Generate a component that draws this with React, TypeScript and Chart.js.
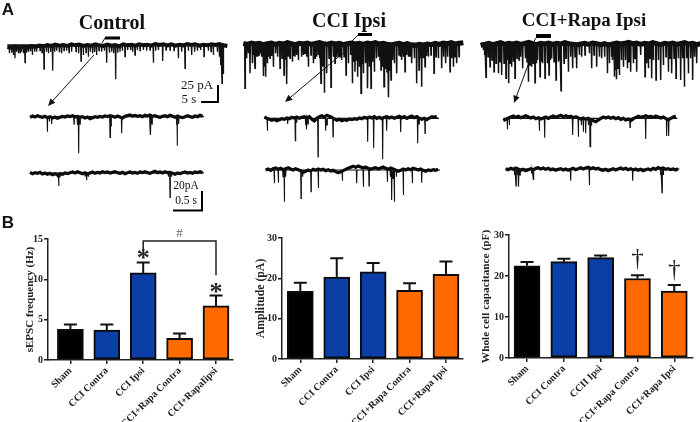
import React, { useEffect, useRef } from "react";
import { Chart, registerables } from "chart.js";
Chart.register(...registerables);

const SERIF = "'Liberation Serif', serif";

// ---- Panel B values ----
const freqLabels = ["Sham", "CCI Contra", "CCI Ipsi", "CCI+Rapa Contra", "CCI+RapaIipsi"];
const ampLabels = ["Sham", "CCI Contra", "CCI Ipsi", "CCI+Rapa Contra", "CCI+Rapa Ipsi"];
const capLabels = ["Sham", "CCI Contra", "CCII Ipsi", "CCI+Rapa Contra", "CCI+Rapa Ipsi"];
const freqValues = [3.8, 3.7, 10.8, 2.7, 6.7];
const freqUpper = [4.4, 4.4, 12.1, 3.3, 8.0];
const ampValues = [16.8, 20.3, 21.6, 17.0, 21.0];
const ampUpper = [18.9, 25.0, 23.8, 18.8, 24.2];
const capValues = [22.5, 23.5, 24.5, 19.4, 16.3];
const capUpper = [23.4, 24.2, 25.0, 20.2, 17.8];
const barColors = ["#000000", "#0b3fa6", "#0b3fa6", "#ff6a00", "#ff6a00"];

// ---- Panel A traces: [time, peak] readings in record units; levels are the noisy baseline read every "step" units ----
const controlTopRest = 135;
const controlTopStart = 22;
const controlTopEnd = 675;
const controlTopSpikes = [[28,160],[35,158],[40,165],[45,175],[50,155],[55,160],[60,158],[64,155],[70,160],[75,188],[80,158],[85,155],[91,152],[97,165],[104,155],[110,155],[120,152],[126,158],[132,207],[139,155],[145,160],[152,156],[158,212],[164,155],[170,152],[178,155],[185,160],[192,152],[200,152],[207,158],[215,155],[228,155],[236,160],[243,183],[250,165],[258,158],[265,170],[271,155],[278,160],[284,156],[290,165],[297,152],[305,155],[313,152],[320,188],[328,158],[335,155],[341,160],[347,238],[353,158],[360,155],[367,152],[375,170],[383,150],[392,150],[398,155],[405,165],[412,150],[420,152],[430,150],[440,152],[450,150],[460,188],[467,152],[475,150],[488,183],[498,150],[510,150],[522,152],[535,175],[545,155],[555,205],[565,152],[575,165],[584,155],[592,152],[602,150],[612,170],[625,152],[633,155],[640,165],[652,155],[658,170],[662,195],[666,250],[670,222]];
const controlTopLevels = [141,143,139,142,140,143,138,141,137,139,135,138,134,137,135,138,133,136,134,138,135,137,133,136,138,134,137,135,139,133,136,134,137,133,136,134,137,132,135,133,136,133,137,134,136,132,135,133,137,134,136,133,135,132,136,138];
const controlTopStep = 12;

const controlMidRest = 350;
const controlMidStart = 90;
const controlMidEnd = 612;
const controlMidSpikes = [[142,395],[148,365],[155,372],[222,372],[232,375],[236,460],[240,372],[330,412],[333,378],[365,400],[450,385],[452,405],[456,372],[530,375],[532,437],[536,372]];
const controlMidLevels = [352,348,351,347,350,352,349,353,350,354,351,355,352,349,351,348,350,347,351,349,352,350,354,351,356,353,350,352,349,351,348,350,347,349,352,348,351,354,349,347,345,348,346,349,347,350,346,348,345,349,347,350,352,349,347,350,346,349,352,348,351,353,350,347,350,352,348,350,346,349];
const controlMidStep = 7.5;

const controlLowRest = 519;
const controlLowStart = 90;
const controlLowEnd = 612;
const controlLowSpikes = [[172,532],[176,558],[180,532],[255,528],[260,541],[265,530],[505,530],[510,592],[514,530]];
const controlLowLevels = [517,521,518,520,517,522,519,523,520,524,521,525,521,523,519,521,518,516,519,515,518,521,518,522,519,516,520,517,519,515,518,516,519,517,515,518,520,517,521,518,516,519,517,520,516,518,515,518,520,517,514,518,516,519,515,518,517,520,523,519,521,518,516,519,517,520,516,518,515,518];
const controlLowStep = 7.5;

const ipsiTopRest = 130;
const ipsiTopStart = 25;
const ipsiTopEnd = 677;
const ipsiTopSpikes = [[30,265],[35,175],[40,160],[45,220],[52,190],[56,165],[60,205],[64,170],[68,170],[72,165],[76,160],[80,170],[85,228],[88,200],[92,230],[97,190],[101,170],[105,175],[110,168],[115,200],[122,160],[128,170],[135,205],[141,175],[147,225],[151,180],[155,252],[160,170],[165,175],[172,185],[176,168],[180,170],[185,165],[190,180],[200,170],[205,165],[210,160],[215,170],[220,200],[228,165],[235,190],[240,175],[245,170],[250,165],[254,175],[258,250],[263,200],[268,278],[275,220],[282,175],[288,262],[295,170],[300,190],[305,172],[310,170],[315,170],[320,180],[327,170],[333,225],[340,190],[347,165],[352,250],[356,185],[360,215],[364,180],[368,230],[373,200],[378,280],[381,190],[385,220],[391,190],[395,185],[398,265],[403,200],[408,265],[413,185],[418,215],[424,175],[430,170],[435,180],[438,210],[442,200],[447,260],[450,205],[452,200],[456,215],[459,190],[461,292],[465,210],[468,240],[473,180],[478,190],[485,220],[492,165],[496,170],[500,180],[505,170],[510,215],[515,165],[520,170],[525,168],[530,190],[538,175],[545,250],[552,210],[556,175],[560,260],[565,175],[570,200],[575,168],[580,170],[588,165],[597,220],[603,170],[610,175],[620,205],[626,170],[632,190],[638,170],[645,215],[650,175],[655,200],[660,170],[665,190],[672,170]];
const ipsiTopLevels = [130,133,129,132,130,134,131,129,133,130,132,128,131,134,130,132,129,133,130,128,131,133,129,132,130,134,131,129,132,130,133,129,131,128,132,130,133,135,132,130,134,131,135,137,133,136,132,134,130,133,129,131,128,132,130,128];
const ipsiTopStep = 12;

const ipsiMidRest = 355;
const ipsiMidStart = 88;
const ipsiMidEnd = 612;
const ipsiMidSpikes = [[97,392],[158,372],[181,422],[185,368],[212,375],[215,388],[219,372],[249,470],[272,392],[276,375],[294,410],[398,425],[416,445],[443,478],[455,392],[497,397],[548,430],[552,372],[570,400]];
const ipsiMidLevels = [351,355,358,361,358,362,359,356,358,354,356,352,354,351,355,352,350,353,350,358,363,355,350,347,351,346,349,352,357,361,358,362,359,361,357,359,356,358,354,356,352,355,351,354,350,355,352,356,352,350,354,351,355,352,349,353,350,355,351,348,353,350,355,358,355,359,354,350,352,349];
const ipsiMidStep = 7.5;

const ipsiLowRest = 510;
const ipsiLowStart = 92;
const ipsiLowEnd = 615;
const ipsiLowSpikes = [[118,550],[130,548],[144,530],[148,605],[152,530],[198,595],[203,530],[228,575],[250,565],[322,542],[365,550],[385,560],[402,558],[457,545],[466,530],[470,600],[474,535],[478,605],[484,530],[505,585],[532,550],[560,548]];
const ipsiLowLevels = [510,507,511,506,504,508,505,509,506,503,507,510,506,509,512,517,514,510,513,508,511,507,510,508,512,509,513,511,515,518,515,512,508,505,502,499,502,498,501,504,501,505,508,505,503,507,504,501,505,508,504,507,510,514,511,507,510,506,509,505,507,510,507,511,514,510,512,509,511,508];
const ipsiLowStep = 7.5;

const rapaTopRest = 130;
const rapaTopStart = 32;
const rapaTopEnd = 685;
const rapaTopSpikes = [[40,150],[44,165],[48,232],[54,170],[60,200],[66,180],[72,215],[78,190],[85,220],[90,185],[95,225],[102,190],[108,235],[112,180],[116,250],[120,190],[125,200],[130,185],[135,235],[141,175],[147,180],[152,170],[158,205],[166,175],[171,185],[175,245],[180,195],[185,200],[190,190],[195,248],[199,190],[203,180],[210,230],[214,185],[218,190],[225,235],[232,190],[237,225],[241,180],[245,175],[252,185],[258,240],[265,185],[269,180],[273,272],[282,190],[288,175],[295,215],[302,170],[308,205],[315,170],[320,205],[328,165],[335,170],[345,165],[358,160],[365,205],[372,165],[380,200],[388,170],[395,175],[404,170],[412,220],[418,190],[425,170],[428,180],[433,230],[437,210],[440,238],[444,205],[448,225],[454,180],[460,200],[466,180],[472,205],[477,185],[482,215],[490,190],[495,175],[500,215],[512,165],[525,230],[530,190],[535,205],[540,175],[545,235],[550,180],[558,240],[565,180],[572,240],[580,195],[588,170],[595,215],[600,175],[605,220],[612,175],[618,235],[625,175],[632,240],[638,175],[643,260],[650,175],[655,220],[662,175],[668,240],[674,170],[680,190]];
const rapaTopLevels = [136,133,130,134,131,128,133,130,132,129,133,130,127,131,134,130,132,129,133,130,132,128,131,133,135,132,130,133,129,131,134,131,135,132,129,132,130,127,131,129,133,130,132,128,131,134,130,132,129,133,130,128,132,130,134,131];
const rapaTopStep = 12;

const rapaMidRest = 355;
const rapaMidStart = 100;
const rapaMidEnd = 622;
const rapaMidSpikes = [[112,388],[118,375],[208,392],[224,413],[308,405],[325,410],[334,375],[340,395],[347,400],[355,375],[360,440],[364,375],[480,382],[527,417],[590,408],[596,408]];
const rapaMidLevels = [362,358,354,351,348,352,349,353,350,347,351,354,351,356,353,357,354,351,355,351,348,352,349,346,350,347,351,349,353,350,354,357,354,358,355,359,362,365,360,355,351,354,351,355,352,356,353,358,355,360,357,362,356,352,349,352,350,347,351,349,352,348,351,354,351,356,359,355,351,348];
const rapaMidStep = 7.5;

const rapaLowRest = 507;
const rapaLowStart = 107;
const rapaLowEnd = 628;
const rapaLowSpikes = [[134,525],[138,558],[143,525],[146,560],[150,525],[185,520],[190,538],[302,542],[358,555],[488,542],[572,525],[576,578],[580,525]];
const rapaLowLevels = [506,509,505,508,504,507,511,508,512,509,506,510,505,503,507,504,508,505,509,507,511,508,506,510,507,511,508,505,509,506,503,507,504,502,506,503,507,505,509,511,508,512,509,506,510,507,504,508,505,509,506,510,507,511,508,512,509,507,510,505,508,503,506,504,508,506,509,507,510,506];
const rapaLowStep = 7.5;

type Trace = { rest: number; start: number; end: number; spikes: number[][]; levels: number[]; step: number; thick: number; thin: number };

function spikePath(t: Trace) {
  const pts: { x: number; y: number }[] = [{ x: t.start, y: t.rest }];
  for (const [x, y] of t.spikes) {
    pts.push({ x: x - 1, y: t.rest }, { x, y }, { x: x + 1, y: t.rest });
  }
  pts.push({ x: t.end, y: t.rest });
  return pts;
}

function TraceColumn({ left, width, traces }: { left: number; width: number; traces: Trace[] }) {
  const ref = useRef<HTMLCanvasElement>(null);
  useEffect(() => {
    const datasets: any[] = [];
    for (const t of traces) {
      datasets.push({ data: spikePath(t), borderColor: "#111", borderWidth: t.thin, pointRadius: 0, tension: 0 });
      datasets.push({ data: t.levels.map((y, i) => ({ x: t.start + i * t.step, y })), borderColor: "#0a0a0a", borderWidth: t.thick, pointRadius: 0, tension: 0 });
    }
    const chart = new Chart(ref.current!, {
      type: "line",
      data: { datasets },
      options: {
        animation: false,
        responsive: false,
        layout: { padding: 0 },
        plugins: { legend: { display: false }, tooltip: { enabled: false } },
        scales: {
          x: { type: "linear", display: false, min: 0, max: width * 3 },
          y: { type: "linear", display: false, min: 0, max: 645, reverse: true },
        },
      },
    });
    return () => chart.destroy();
  }, []);
  return <canvas ref={ref} width={width} height={215} style={{ position: "absolute", left, top: 0 }} />;
}

type Mark = { x: number; y: number; text: string; size: number; bold?: boolean; color?: string };
type BarProps = {
  left: number; top: number; width: number; height: number;
  axisLeft: number; axisTop: number; axisBottom: number; axisRight: number;
  gapL: number; gapR: number; spacing: number;
  labels: string[]; values: number[]; upper: number[]; max: number; step: number; title: string; titleSize: number;
  marks?: Mark[]; bracket?: { x1: number; x2: number; y: number; y1: number; y2: number };
};

function BarPanel(p: BarProps) {
  const ref = useRef<HTMLCanvasElement>(null);
  useEffect(() => {
    const overlay = {
      id: "overlay",
      afterDatasetsDraw(chart: any) {
        const { ctx, scales } = chart;
        const xs = scales.x, ys = scales.y;
        ctx.save();
        ctx.strokeStyle = "#111";
        ctx.lineWidth = 2;
        p.values.forEach((v, i) => {
          const x = xs.getPixelForValue(i + 1);
          const y0 = ys.getPixelForValue(v);
          const y1 = ys.getPixelForValue(p.upper[i]);
          ctx.beginPath();
          ctx.moveTo(x, y0); ctx.lineTo(x, y1);
          ctx.moveTo(x - 6.5, y1); ctx.lineTo(x + 6.5, y1);
          ctx.stroke();
        });
        if (p.bracket) {
          const b = p.bracket;
          ctx.lineWidth = 1.5;
          ctx.strokeStyle = "#222";
          ctx.beginPath();
          ctx.moveTo(xs.getPixelForValue(b.x1), ys.getPixelForValue(b.y1));
          ctx.lineTo(xs.getPixelForValue(b.x1), ys.getPixelForValue(b.y));
          ctx.lineTo(xs.getPixelForValue(b.x2), ys.getPixelForValue(b.y));
          ctx.lineTo(xs.getPixelForValue(b.x2), ys.getPixelForValue(b.y2));
          ctx.stroke();
        }
        ctx.textAlign = "center";
        ctx.textBaseline = "middle";
        for (const m of p.marks || []) {
          ctx.fillStyle = m.color || "#222";
          ctx.font = `${m.bold ? "bold " : ""}${m.size}px ${SERIF}`;
          ctx.fillText(m.text, xs.getPixelForValue(m.x), ys.getPixelForValue(m.y));
        }
        ctx.restore();
      },
    };
    const chart = new Chart(ref.current!, {
      type: "bar",
      data: {
        datasets: [{
          data: p.values.map((v, i) => ({ x: i + 1, y: v })),
          backgroundColor: barColors,
          borderColor: "#0a0a0a",
          borderWidth: 2,
          barThickness: 26,
          borderSkipped: false,
        }],
      },
      plugins: [overlay],
      options: {
        animation: false,
        responsive: false,
        layout: { padding: { top: p.axisTop - p.top, right: p.left + p.width - p.axisRight, left: 0, bottom: 0 } },
        plugins: { legend: { display: false }, tooltip: { enabled: false } },
        scales: {
          x: {
            type: "linear",
            offset: false,
            min: 1 - p.gapL / p.spacing,
            max: 5 + p.gapR / p.spacing,
            afterBuildTicks: (s: any) => { s.ticks = [1, 2, 3, 4, 5].map((value) => ({ value })); },
            afterFit: (s: any) => { s.height = p.top + p.height - p.axisBottom; s.paddingLeft = 0; s.paddingRight = 0; },
            border: { color: "#222", width: 1.5 },
            grid: { offset: false, drawOnChartArea: false, color: "#222", lineWidth: 1.5, tickLength: 4 },
            ticks: {
              autoSkip: false, minRotation: 45, maxRotation: 45, padding: 1,
              color: "#222",
              font: { family: SERIF, weight: "bold", size: 10 },
              callback: (v: any) => p.labels[Number(v) - 1],
            },
          },
          y: {
            min: 0, max: p.max,
            afterFit: (s: any) => { s.width = p.axisLeft - p.left; },
            border: { color: "#222", width: 1.5 },
            grid: { drawOnChartArea: false, color: "#222", lineWidth: 1.5, tickLength: 4 },
            ticks: { stepSize: p.step, padding: 1, color: "#222", font: { family: SERIF, weight: "bold", size: 10 } },
            title: { display: true, text: p.title, color: "#222", padding: 0, font: { family: SERIF, weight: "bold", size: p.titleSize } },
          },
        },
      },
    });
    return () => chart.destroy();
  }, []);
  return <canvas ref={ref} width={p.width} height={p.height} style={{ position: "absolute", left: p.left, top: p.top }} />;
}

function Txt({ x, y, size, bold, sans, children }: any) {
  return (
    <div style={{
      position: "absolute", left: x, top: y, transform: "translate(-50%,-50%)", whiteSpace: "nowrap",
      fontFamily: sans ? "'Liberation Sans', sans-serif" : SERIF, fontSize: size, fontWeight: bold ? "bold" : "normal",
      color: "#111", lineHeight: 1,
    }}>{children}</div>
  );
}

const controlTraces: Trace[] = [
  { rest: controlTopRest, start: controlTopStart, end: controlTopEnd, spikes: controlTopSpikes, levels: controlTopLevels, step: controlTopStep, thick: 4, thin: 1.3 },
  { rest: controlMidRest, start: controlMidStart, end: controlMidEnd, spikes: controlMidSpikes, levels: controlMidLevels, step: controlMidStep, thick: 3.2, thin: 1.1 },
  { rest: controlLowRest, start: controlLowStart, end: controlLowEnd, spikes: controlLowSpikes, levels: controlLowLevels, step: controlLowStep, thick: 3.2, thin: 1.1 },
];
const ipsiTraces: Trace[] = [
  { rest: ipsiTopRest, start: ipsiTopStart, end: ipsiTopEnd, spikes: ipsiTopSpikes, levels: ipsiTopLevels, step: ipsiTopStep, thick: 5, thin: 1.5 },
  { rest: ipsiMidRest, start: ipsiMidStart, end: ipsiMidEnd, spikes: ipsiMidSpikes, levels: ipsiMidLevels, step: ipsiMidStep, thick: 3.2, thin: 1.1 },
  { rest: ipsiLowRest, start: ipsiLowStart, end: ipsiLowEnd, spikes: ipsiLowSpikes, levels: ipsiLowLevels, step: ipsiLowStep, thick: 3.2, thin: 1.1 },
];
const rapaTraces: Trace[] = [
  { rest: rapaTopRest, start: rapaTopStart, end: rapaTopEnd, spikes: rapaTopSpikes, levels: rapaTopLevels, step: rapaTopStep, thick: 5, thin: 1.5 },
  { rest: rapaMidRest, start: rapaMidStart, end: rapaMidEnd, spikes: rapaMidSpikes, levels: rapaMidLevels, step: rapaMidStep, thick: 3.2, thin: 1.1 },
  { rest: rapaLowRest, start: rapaLowStart, end: rapaLowEnd, spikes: rapaLowSpikes, levels: rapaLowLevels, step: rapaLowStep, thick: 3.2, thin: 1.1 },
];

function Arrow({ x1, y1, x2, y2 }: any) {
  const a = Math.atan2(y2 - y1, x2 - x1);
  const l = 8, w = 0.42;
  const p = `${x2},${y2} ${x2 - l * Math.cos(a - w)},${y2 - l * Math.sin(a - w)} ${x2 - l * Math.cos(a + w)},${y2 - l * Math.sin(a + w)}`;
  return (<g><line x1={x1} y1={y1} x2={x2 - 3 * Math.cos(a)} y2={y2 - 3 * Math.sin(a)} stroke="#111" strokeWidth={1} /><polygon points={p} fill="#111" /></g>);
}

export default function App() {
  return (
    <div style={{ position: "fixed", left: 0, top: 0, width: 700, height: 422, background: "#fff", overflow: "hidden", filter: "blur(0.3px)" }}>
      <TraceColumn left={0} width={235} traces={controlTraces} />
      <TraceColumn left={235} width={235} traces={ipsiTraces} />
      <TraceColumn left={470} width={230} traces={rapaTraces} />

      <svg width={700} height={422} style={{ position: "absolute", left: 0, top: 0 }}>
        <rect x={105} y={36.5} width={15} height={3} fill="#000" />
        <line x1={105} y1={38} x2={102} y2={43} stroke="#111" />
        <rect x={358} y={33} width={14} height={3} fill="#000" />
        <line x1={358} y1={35} x2={352} y2={41} stroke="#111" />
        <rect x={536} y={34} width={15} height={4} fill="#000" />
        <line x1={536} y1={38} x2={533} y2={43} stroke="#111" />
        <Arrow x1={94} y1={55} x2={48} y2={106} />
        <Arrow x1={343} y1={53} x2={285} y2={102} />
        <Arrow x1={528} y1={65} x2={514} y2={103} />
        <path d="M218 85 V102 H201" fill="none" stroke="#000" strokeWidth={2} />
        <path d="M202 191 V210.5 H173" fill="none" stroke="#000" strokeWidth={2} />
      </svg>

      <Txt x={8} y={9} size={17} bold sans>A</Txt>
      <Txt x={8} y={222} size={17} bold sans>B</Txt>
      <Txt x={112} y={22} size={20} bold>Control</Txt>
      <Txt x={349} y={20} size={20} bold>CCI Ipsi</Txt>
      <Txt x={584} y={19} size={19} bold>CCI+Rapa Ipsi</Txt>
      <Txt x={197} y={84} size={13}>25 pA</Txt>
      <Txt x={189} y={98} size={13}>5 s</Txt>
      <Txt x={186} y={186} size={11.5}>20pA</Txt>
      <Txt x={186} y={201} size={11.5}>0.5 s</Txt>

      <BarPanel left={24} top={226} width={216} height={196} axisLeft={48} axisTop={239} axisBottom={360} axisRight={233}
        gapL={22.4} gapR={17} spacing={36.4} labels={freqLabels} values={freqValues} upper={freqUpper} max={15} step={5}
        title="sEPSC frequency (Hz)" titleSize={11}
        bracket={{ x1: 3, x2: 5, y: 14.75, y1: 13.75, y2: 10.5 }}
        marks={[{ x: 3, y: 12.5, text: "*", size: 26, bold: true }, { x: 5, y: 8.3, text: "*", size: 26, bold: true }, { x: 4, y: 15.7, text: "#", size: 13, color: "#666" }]} />
      <BarPanel left={254} top={226} width={216} height={196} axisLeft={282} axisTop={238} axisBottom={359} axisRight={463}
        gapL={18.3} gapR={17} spacing={36.35} labels={ampLabels} values={ampValues} upper={ampUpper} max={30} step={10}
        title="Amplitude (pA)" titleSize={11.8} />
      <BarPanel left={479} top={226} width={221} height={196} axisLeft={509} axisTop={235} axisBottom={358} axisRight={693}
        gapL={18} gapR={18.7} spacing={36.75} labels={capLabels} values={capValues} upper={capUpper} max={30} step={10}
        title="Whole cell capacitance (pF)" titleSize={11.3}
        marks={[{ x: 4, y: 24, text: "†", size: 25 }, { x: 5, y: 21.3, text: "†", size: 25 }]} />
    </div>
  );
}
